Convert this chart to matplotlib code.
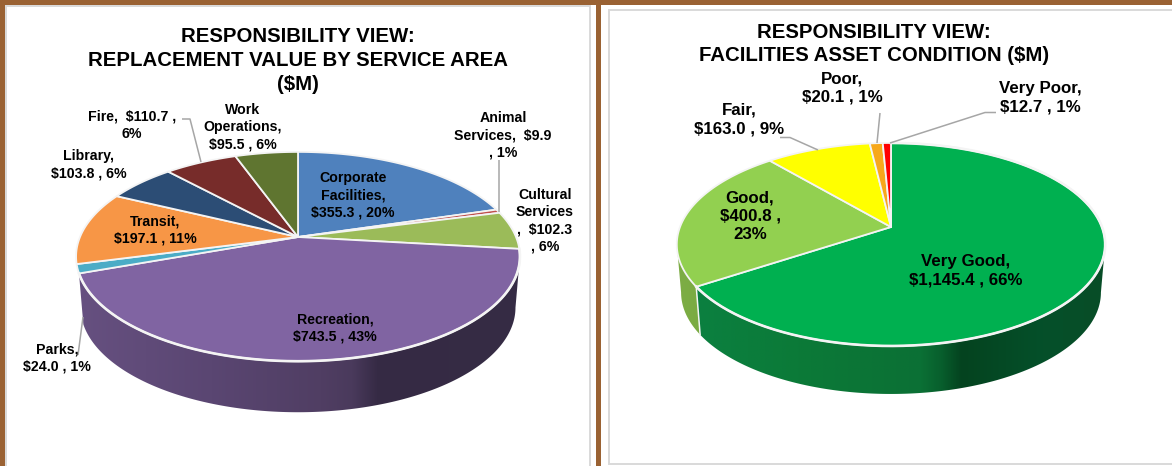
"""
Two fake 3D pies, responsibility view
"""
import numpy as np
import matplotlib
matplotlib.use('Agg')
import matplotlib.pyplot as plt
from matplotlib.colors import LinearSegmentedColormap
from matplotlib.patches import Polygon, Rectangle

plt.rcParams['font.family'] = ['Liberation Sans', 'DejaVu Sans']

area_values = [355.3, 9.9, 102.3, 743.5, 24.0, 197.1, 103.8, 110.7, 95.5]
area_colors = ['#4f81bd', '#c0504d', '#9bbb59', '#8064a2', '#4bacc6',
               '#f79646', '#2c4d75', '#772c2a', '#5f7530']
area_labels = ['Corporate\nFacilities,\n$355.3 , 20%', 'Animal\nServices,  $9.9\n, 1%',
               'Cultural\nServices\n,  $102.3\n, 6%', 'Recreation,\n$743.5 , 43%',
               'Parks,\n$24.0 , 1%', 'Transit,\n$197.1 , 11%', 'Library,\n$103.8 , 6%',
               'Fire,  $110.7 ,\n6%', 'Work\nOperations,\n$95.5 , 6%']

cond_values = [1145.4, 400.8, 163.0, 20.1, 12.7]
cond_colors = ['#00b050', '#92d050', '#ffff00', '#f7a81b', '#ff0000']
cond_labels = ['Very Good,\n$1,145.4 , 66%', 'Good,\n$400.8 ,\n23%', 'Fair,\n$163.0 , 9%',
               'Poor,\n$20.1 , 1%', 'Very Poor,\n$12.7 , 1%']

BROWN = '#9a6233'
PANEL_EDGE = '#d9d9d9'
RIM = '#f4f4f4'
LINE_GAP = 1.28


def rim(pie, angles):
    """Perspective circle: clockwise angles from 12 o'clock to picture coords"""
    cx, cy, sx, sy, k = pie[:5]
    a = np.radians(angles)
    d = 1 + k * np.cos(a)
    return cx + sx * np.sin(a) / d, cy - sy * np.cos(a) / d


def draw_side(ax, pie, start, end, stops, seam=False):
    """Side wall of one slice, the visible part only, with a gradient"""
    cx, cy, sx, sy, k, depth = pie
    limit = np.degrees(np.arccos(-k))
    start, end = max(start, limit), min(end, 360 - limit)
    x, y = rim(pie, np.linspace(start, end, 200))
    x2 = cx + (x - cx) * 0.98
    y2 = y + depth
    pts = np.column_stack([np.r_[x, x2[::-1]], np.r_[y, y2[::-1]]])
    poly = Polygon(pts, closed=True, fc='none', ec='none', zorder=2)
    ax.add_patch(poly)
    cmap = LinearSegmentedColormap.from_list('side', stops)
    grad = np.linspace(0, 1, 256).reshape(1, -1)
    im = ax.imshow(grad, cmap=cmap, aspect='auto', zorder=2,
                   extent=(min(x.min(), x2.min()), max(x.max(), x2.max()),
                           y2.max() + 1, y.min() - 1))
    im.set_clip_path(poly)
    ax.set_xlim(0, 1172)
    ax.set_ylim(466, 0)
    if seam:
        ax.plot([x[-1], x2[-1]], [y[-1], y2[-1]], color=RIM, lw=1.1, zorder=2.5)


def draw_top(ax, pie, values, colors):
    edges = np.cumsum([0] + list(values)) / sum(values) * 360
    for i, color in enumerate(colors):
        x, y = rim(pie, np.linspace(edges[i], edges[i + 1], 120))
        ax.fill(np.r_[pie[0], x], np.r_[pie[1], y], fc=color, ec=RIM, lw=1.3,
                joinstyle='round', zorder=3)
    return edges


def front_rim(ax, pie, start, end):
    x, y = rim(pie, np.linspace(start, end, 200))
    ax.plot(x, y, color=RIM, lw=1.9, zorder=4)


def labels(ax, texts, spots, size):
    for text, (x, y) in zip(texts, spots):
        ax.text(x, y, text, ha='center', va='center', fontsize=size, fontweight='bold',
                color='black', linespacing=LINE_GAP, zorder=6)


def leader(ax, xs, ys):
    ax.plot(xs, ys, color='#a6a6a6', lw=1.1, zorder=5, solid_capstyle='butt')


fig = plt.figure(figsize=(11.72, 4.66), dpi=100, facecolor=BROWN)
ax = fig.add_axes([0, 0, 1, 1])
ax.set_xlim(0, 1172)
ax.set_ylim(466, 0)
ax.axis('off')

ax.add_patch(Rectangle((5, 5), 591, 470, fc='white', ec='none', zorder=0.5))
ax.add_patch(Rectangle((6, 6), 584, 470, fc='white', ec=PANEL_EDGE, lw=1.4, zorder=1))
ax.add_patch(Rectangle((601, 5), 580, 470, fc='white', ec='none', zorder=0.5))
ax.add_patch(Rectangle((609, 10), 580, 454, fc='white', ec=PANEL_EDGE, lw=1.4, zorder=1))

# left pie: centre x, centre y, x scale, y scale, perspective, wall depth
left_pie = (298, 237, 218, 101, 0.187, 51)
edges = draw_top(ax, left_pie, area_values, area_colors)
draw_side(ax, left_pie, edges[3], edges[4],
          [(0, '#665080'), (0.3, '#5a4672'), (0.55, '#503e63'), (0.62, '#4a3a5c'),
           (0.68, '#352a44'), (1, '#362c45')])
front_rim(ax, left_pie, edges[3], edges[4])

ax.text(298, 60.5, 'RESPONSIBILITY VIEW:\nREPLACEMENT VALUE BY SERVICE AREA\n($M)', ha='center',
        va='center', fontsize=14.7, fontweight='bold', linespacing=1.32, zorder=6)
labels(ax, area_labels, [(353, 195), (503, 135), (545, 221), (335, 328), (57, 358),
                         (155, 230), (89, 165), (132, 125), (243, 127)], 10.2)
leader(ax, [182, 190, 201], [119, 119, 162])
leader(ax, [499, 499], [160, 212])
leader(ax, [78, 83], [355, 317])

# right pie
right_pie = (891, 227, 211, 98.5, 0.172, 48)
edges = draw_top(ax, right_pie, cond_values, cond_colors)
draw_side(ax, right_pie, edges[1], edges[2], ['#7dad45', '#7aab42'])
draw_side(ax, right_pie, edges[0], edges[1],
          [(0, '#0b8040'), (0.25, '#0b7a38'), (0.55, '#0b7035'), (0.6, '#085f2d'),
           (0.65, '#04431f'), (0.85, '#05502a'), (1, '#084d27')], seam=True)
front_rim(ax, right_pie, edges[0], edges[1])

ax.text(874, 44, 'RESPONSIBILITY VIEW:\nFACILITIES ASSET CONDITION ($M)', ha='center',
        va='center', fontsize=14.7, fontweight='bold', linespacing=LINE_GAP, zorder=6)
labels(ax, cond_labels, [(966, 271), (750, 216), (739, 119.5), (842, 88), (1040.5, 97.5)], 12.2)
leader(ax, [780, 790, 818], [137.5, 137.5, 150])
leader(ax, [880, 877], [113, 143])
leader(ax, [996, 985, 890], [112.5, 112.5, 143])

fig.savefig('out.png', dpi=100, facecolor=BROWN)
